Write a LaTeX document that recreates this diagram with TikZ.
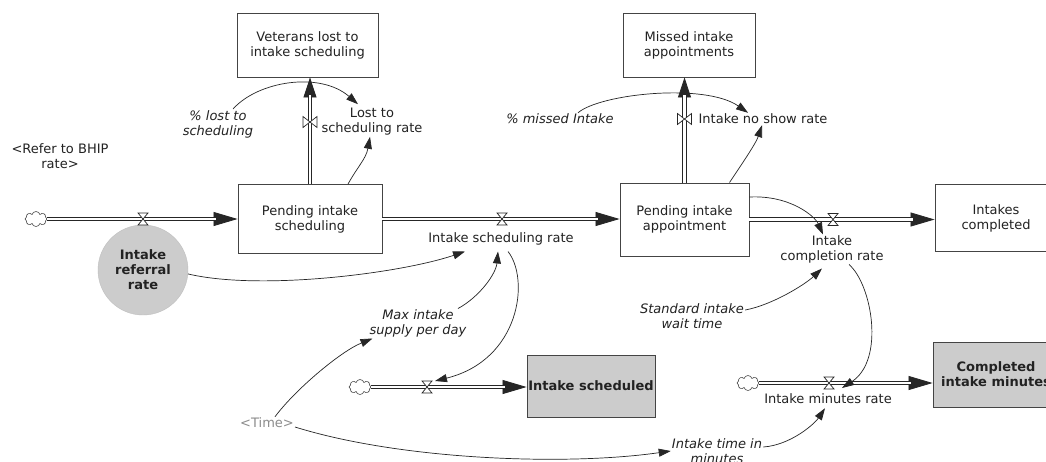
\documentclass[tikz,border=0pt]{standalone}
\usepackage{fontspec}
\setmainfont{DejaVu Sans}
\usetikzlibrary{arrows.meta,shapes.symbols}
\definecolor{txt}{HTML}{222222}
\definecolor{edge}{HTML}{444444}
\definecolor{ln}{HTML}{262626}
\begin{document}
\begin{tikzpicture}[x=1pt,y=-1pt,
  every node/.style={font=\fontsize{13}{15}\selectfont, text=txt},
  stock/.style={draw=edge, line width=0.9pt, fill=white, inner sep=0pt, align=center},
  stockg/.style={stock, fill=black!20, font=\fontsize{13}{15}\selectfont\bfseries},
  lbl/.style={inner sep=1pt, align=center},
  ilbl/.style={lbl, font=\fontsize{13}{15}\selectfont\itshape},
  pipetip/.style={draw=ln, line width=0.8pt, -{Triangle[length=24pt,width=14pt]}},
  pipebody/.style={draw=ln, line width=0.8pt, double=white, double distance=2.6pt, shorten >=22pt},
  vpipetip/.style={draw=ln, line width=0.8pt, -{Triangle[length=20pt,width=13pt]}},
  vpipebody/.style={draw=ln, line width=0.8pt, double=white, double distance=2.6pt, shorten >=18pt},
  info/.style={draw=ln, line width=0.7pt, -{Triangle[length=12pt,width=8pt]}},
  cloudn/.style={cloud, cloud puffs=8, draw=black!70, line width=0.6pt, fill=white, minimum width=22pt, minimum height=15pt, inner sep=0pt},
  hvalve/.pic={\draw[ln, fill=white, line width=0.7pt] (-5,-6) -- (5,-6) -- (-5,6) -- (5,6) -- cycle;},
  vvalve/.pic={\draw[ln, fill=white, line width=0.7pt] (-7,-5.5) -- (-7,5.5) -- (7,-5.5) -- (7,5.5) -- cycle;}
]
\useasboundingbox (0,0) rectangle (1046,461);
\fill[white] (0,0) rectangle (1046,461);

% stocks
\node[stock, minimum width=141pt, minimum height=64pt] (vet) at (307.5,45) {Veterans lost to\\intake scheduling};
\node[stock, minimum width=144pt, minimum height=69pt] (pis) at (310,219) {Pending intake\\scheduling};
\node[stock, minimum width=132pt, minimum height=64pt] (mia) at (689,45) {Missed intake\\appointments};
\node[stock, minimum width=129pt, minimum height=73pt] (pia) at (684.5,219.5) {Pending intake\\appointment};
\node[stock, minimum width=122pt, minimum height=67pt] (ic) at (996,218) {Intakes\\completed};
\node[stockg, minimum width=126pt, minimum height=65pt] (cim) at (996,374.5) {Completed\\intake minutes};
\node[stockg, minimum width=128pt, minimum height=62pt] (isch) at (591,386) {Intake scheduled};

% auxiliary circle
\node[circle, fill=black!20, draw=black!25, minimum size=90pt, inner sep=0pt, align=center,
      font=\fontsize{13}{15}\selectfont\bfseries] (irr) at (143,270) {Intake\\referral\\rate};

% clouds
\node[cloudn] (c1) at (36,219) {};
\node[cloudn] (c2) at (360,387) {};
\node[cloudn] (c3) at (748,383) {};

% labels
\node[lbl] (refer) at (60,156) {<Refer to BHIP\\rate>};
\node[ilbl] (lost) at (218,124) {\% lost to\\scheduling};
\node[lbl] (lsr) at (372,122) {Lost to\\scheduling rate};
\node[ilbl] (miss) at (560,119) {\% missed Intake};
\node[lbl] (nsr) at (763,119) {Intake no show rate};
\node[lbl] (isr) at (501,239) {Intake scheduling rate};
\node[lbl] (icr) at (832,249.5) {Intake\\completion rate};
\node[ilbl] (max) at (418,323.5) {Max intake\\supply per day};
\node[ilbl] (std) at (692,316) {Standard intake\\wait time};
\node[lbl] (imr) at (828,399) {Intake minutes rate};
\node[lbl, text=black!45] (time) at (267,423) {<Time>};
\node[ilbl] (itm) at (717,451) {Intake time in\\minutes};

% pipes
\draw[pipetip] (c1.east) -- (c1.east -| pis.west);
\draw[pipebody] (c1.east) -- (c1.east -| pis.west);
\draw[pipetip] (pis.east) -- (pis.east -| pia.west);
\draw[pipebody] (pis.east) -- (pis.east -| pia.west);
\draw[pipetip] (pia.east) -- (pia.east -| ic.west);
\draw[pipebody] (pia.east) -- (pia.east -| ic.west);
\draw[vpipetip] (pis.north) -- (pis.north |- vet.south);
\draw[vpipebody] (pis.north) -- (pis.north |- vet.south);
\draw[vpipetip] (pia.north) -- (pia.north |- mia.south);
\draw[vpipebody] (pia.north) -- (pia.north |- mia.south);
\draw[pipetip] (c2.east) -- (c2.east -| isch.west);
\draw[pipebody] (c2.east) -- (c2.east -| isch.west);
\draw[pipetip] (c3.east) -- (c3.east -| cim.west);
\draw[pipebody] (c3.east) -- (c3.east -| cim.west);

% valves
\coordinate (v1) at (143,219);
\coordinate (v2) at (502,219);
\coordinate (v3) at (833,219.5);
\coordinate (vv1) at (310,122);
\coordinate (vv2) at (684.5,119);
\coordinate (v4) at (427,387);
\coordinate (v5) at (829,383);
\pic at (v1) {hvalve};
\pic at (v2) {hvalve};
\pic at (v3) {hvalve};
\pic at (v4) {hvalve};
\pic at (v5) {hvalve};
\pic at (vv1) {vvalve};
\pic at (vv2) {vvalve};

% information links
\draw[info] ([xshift=15pt]lost.north) .. controls +(25,-28) and +(-38,-33) .. ([xshift=-14pt,yshift=3pt]lsr.north);
\draw[info] ([xshift=38pt]pis.north) .. controls +(10,-18) and +(-4,22) .. ([xshift=-2pt]lsr.south);
\draw[info] ([xshift=18pt]miss.north) .. controls +(22,-19) and +(-43,-30) .. ([xshift=-15pt]nsr.north);
\draw[info] ([xshift=45pt]pia.north) .. controls +(12,-18) and +(-6,18) .. ([xshift=-1pt]nsr.south);
\draw[info] (irr.-5) .. controls +(72,17) and +(-65,22) .. ([xshift=-36pt,yshift=-5pt]isr.south);
\draw[info] ([xshift=40pt]max.north) .. controls +(22,-12) and +(-2,22) .. ([xshift=-3pt,yshift=-5pt]isr.south);
\draw[info] ([xshift=7pt,yshift=-5pt]isr.south) .. controls +(22,28) and +(85,-21) .. ([xshift=8pt,yshift=6pt]v4);
\draw[info] ([xshift=8pt]time.north) .. controls +(20,-27) and +(-32,13) .. ([xshift=4pt]max.south west);
\draw[info] ([yshift=-4pt]time.east) .. controls +(106,33) and +(-105,15) .. (itm.west);
\draw[info] ([yshift=6pt]std.east) .. controls +(27,-5) and +(-17,16) .. ([xshift=-10pt,yshift=-4pt]icr.south);
\draw[info] ([yshift=22.5pt]pia.east) .. controls +(41,-2) and +(-8,-18) .. ([xshift=-9pt]icr.north);
\draw[info] ([xshift=17pt]icr.south) .. controls +(23,20) and +(43,-28) .. ([xshift=13pt,yshift=-5pt]v5);
\draw[info] ([yshift=4pt]itm.east) .. controls +(28,-2) and +(-10,15) .. ([xshift=-3pt,yshift=-3pt]imr.south);
\end{tikzpicture}
\end{document}
